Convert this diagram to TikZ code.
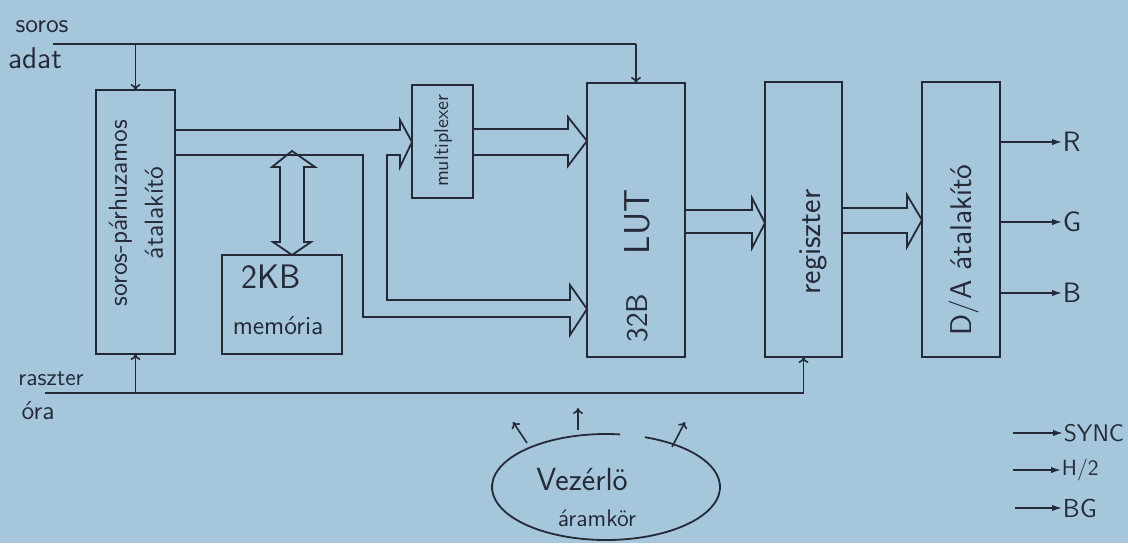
\documentclass[tikz,border=0pt]{standalone}
\usetikzlibrary{arrows.meta,fit,calc}
\definecolor{paper}{RGB}{166,198,220}
\definecolor{ink}{RGB}{36,42,56}
\begin{document}
\begin{tikzpicture}[x=0.5pt,y=-0.5pt,color=ink,
  line width=0.9pt,
  box/.style={draw=ink,line width=0.9pt,inner sep=0pt,outer sep=0pt},
  lbl/.style={font=\sffamily\fontsize{#1}{#1}\selectfont,text=ink,inner sep=0pt},
  lbl/.default=11,
  rot/.style={rotate=90,align=center},
  wire/.style={draw=ink,line width=0.8pt},
  sig/.style={wire,-{Latex[length=5pt,width=3.2pt]}},
  tip/.style={wire,-{To[length=3pt,width=5pt]}},
  bus/.style={draw=ink,line width=0.9pt,line join=miter},
]
\fill[paper] (0,0) rectangle (1128,543);
\useasboundingbox (0,0) rectangle (1128,543);

% boxes
\node[box, fit={(96,90) (175,354)}] (conv) {};
\node[box, fit={(412,85) (473,198)}] (mux) {};
\node[box, fit={(222,255) (342,354)}] (mem) {};
\node[box, fit={(587,83) (685,357)}] (lut) {};
\node[box, fit={(765,82) (842,357)}] (reg) {};
\node[box, fit={(922,82) (1000,357)}] (da) {};

% box texts
\node[lbl=13, rot] (convt) at (136,213) {soros-párhuzamos\\[5pt]átalakító};
\node[lbl=10, rot] (muxt) at (443,141) {multiplexer};
\node[lbl=17] (memt1) at (271,277) {2KB};
\node[lbl=13] (memt2) at (278,326) {memória};
\node[lbl=18, rot] (lutt1) at (637,222) {LUT};
\node[lbl=15, rot] (lutt2) at (637,318) {32B};
\node[lbl=16, rot] (regt) at (813,242) {regiszter};
\node[lbl=15, rot] (dat) at (964,250) {D/A átalakító};

% external labels
\node[lbl=13] (soros) at (42,27) {soros};
\node[lbl=15] (adat) at (35,58) {adat};
\node[lbl=12] (raszter) at (51,379) {raszter};
\node[lbl=13] (ora) at (38,411) {óra};

\coordinate (sd) at (53,44);
\coordinate (rc) at (45,393);

% serial data line
\draw[wire] (sd) -- (lut.north |- sd);
\draw[tip] (lut.north |- sd) -- (lut.north);
\draw[tip] (conv.north |- sd) -- (conv.north);

% raster clock line
\draw[wire] (rc) -| (reg.south |- 0,380);
\draw[tip] (reg.south |- 0,380) -- (reg.south);
\draw[tip] (conv.south |- rc) -- (conv.south);

% bus: converter -> multiplexer and converter -> LUT
\draw[bus] (conv.east |- 0,130) -- (400,130) -- (400,120) -- (mux.west |- 0,142)
  -- (400,167) -- (400,155) -- (387,155) -- (387,300) -- (570,300) -- (570,285)
  -- (lut.west |- 0,309) -- (570,335) -- (570,317) -- (363,317) -- (363,155)
  -- (conv.east |- 0,155);

% bus: multiplexer -> LUT
\draw[bus] (mux.east |- 0,129) -- (568,129) -- (568,117) -- (lut.west |- 0,141)
  -- (568,166) -- (568,155) -- (mux.east |- 0,155);

% bus: LUT -> register
\draw[bus] (lut.east |- 0,210) -- (752,210) -- (752,198) -- (reg.west |- 0,223)
  -- (752,248) -- (752,233) -- (lut.east |- 0,233);

% bus: register -> D/A
\draw[bus] (reg.east |- 0,208) -- (907,208) -- (907,195) -- (da.west |- 0,220)
  -- (907,247) -- (907,233) -- (reg.east |- 0,233);

% bidirectional bus to memory
\draw[bus] (280,167) -- (272,167) -- (292,151) -- (315,167) -- (304,167)
  -- (304,242) -- (311,242) -- (mem.north -| 292,0) -- (273,242) -- (280,242) -- cycle;

% outputs
\node[lbl=14, anchor=west] (R) at (1062,142) {R};
\node[lbl=14, anchor=west] (G) at (1062,222) {G};
\node[lbl=14, anchor=west] (B) at (1062,293) {B};
\draw[sig] (da.east |- R) -- (R.west);
\draw[sig] (da.east |- G) -- (G.west);
\draw[sig] (da.east |- B) -- (B.west);

\node[lbl=12, anchor=west] (sync) at (1063,433) {SYNC};
\node[lbl=11, anchor=west] (h2) at (1061,470) {H/2};
\node[lbl=13, anchor=west] (bg) at (1062,508) {BG};
\coordinate (s0) at (1013,433);
\coordinate (h0) at (1013,470);
\coordinate (b0) at (1015,508);
\draw[sig] (s0) -- (sync.west);
\draw[sig] (h0) -- (h2.west);
\draw[sig] (b0) -- (bg.west);

% control circuit
\node[draw=none, minimum width=114pt, minimum height=53pt, inner sep=0pt] (ctrl) at (606,487) {};
\draw[line width=0.9pt] (606,487) ++(-70:114 and 53) arc[start angle=-70, end angle=277, x radius=114, y radius=53];
\node[lbl=16] (ctrlt1) at (582,480) {Vezérlö};
\node[lbl=12] (ctrlt2) at (597,518) {áramkör};
\coordinate (c1) at (527,443);
\coordinate (c1e) at (513,422);
\coordinate (c2) at (578,430);
\coordinate (c2e) at (578,408);
\coordinate (c3) at (672,447);
\coordinate (c3e) at (685,422);
\draw[tip] (c1) -- (c1e);
\draw[tip] (c2) -- (c2e);
\draw[tip] (c3) -- (c3e);
\end{tikzpicture}
\end{document}
